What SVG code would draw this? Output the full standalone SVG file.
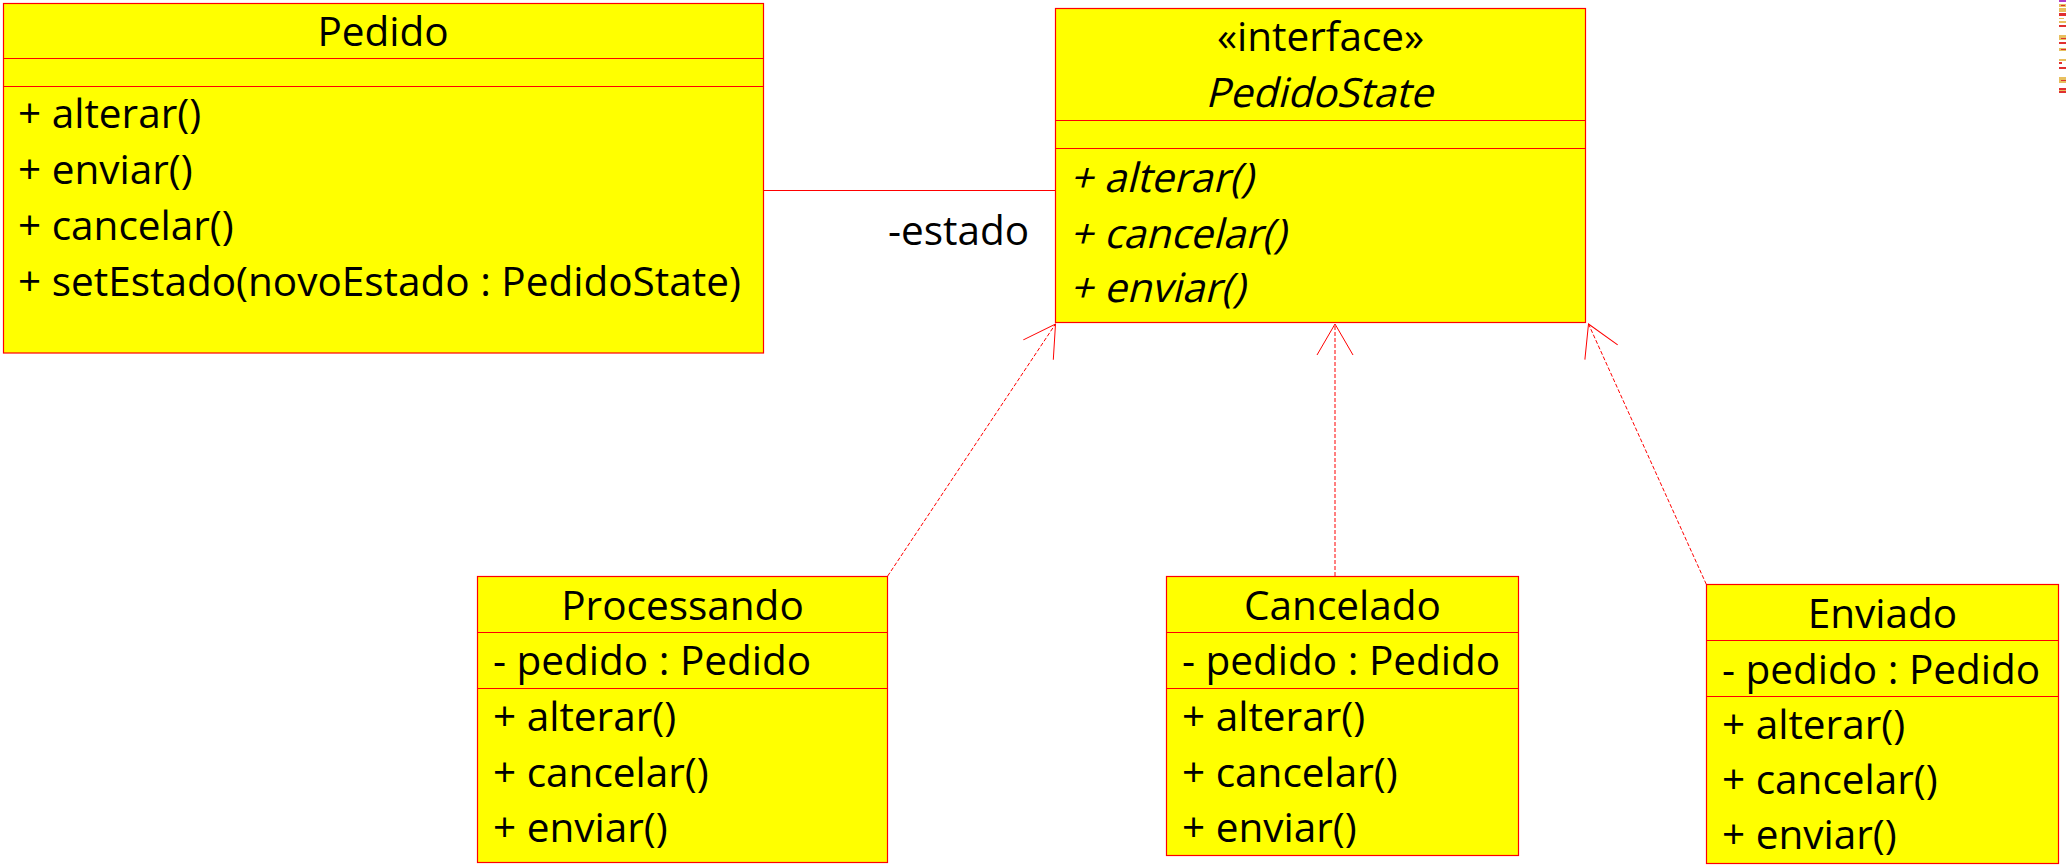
<svg xmlns="http://www.w3.org/2000/svg" width="2066" height="867" viewBox="0 0 2066 867">
<defs>
<style>
.box{fill:#ffff00;stroke:#ff0000;stroke-width:1.2}
.dv{stroke:#ff0000;stroke-width:1.2}
.t{font-family:"Open Sans","Noto Sans",sans-serif;font-size:40.5px;fill:#000}
.c{text-anchor:middle}
.assoc{stroke:#ff0000;stroke-width:1.2;fill:none}
.real{stroke:#ff0000;stroke-width:1;stroke-dasharray:4 2;fill:none;marker-end:url(#open)}
</style>
<marker id="open" markerUnits="userSpaceOnUse" markerWidth="40" markerHeight="40" refX="0" refY="0" orient="auto" overflow="visible">
<path d="M -31 -18 L 0 0 L -31 18" fill="none" stroke="#ff0000" stroke-width="1"/>
</marker>
</defs>
<rect x="0" y="0" width="2066" height="867" fill="#ffffff"/>

<g id="connectors">
<line class="assoc" x1="763.5" y1="190.5" x2="1055.5" y2="190.5"/>
<text class="t" x="888" y="245">-estado</text>
<line class="real" x1="887.7" y1="576" x2="1055.5" y2="324"/>
<line class="real" x1="1335" y1="576" x2="1335" y2="324"/>
<line class="real" x1="1706.3" y1="584.3" x2="1588.5" y2="324"/>
</g>

<g id="Pedido">
<rect class="box" x="3.5" y="3.5" width="760" height="349.5"/>
<line class="dv" x1="3.5" y1="58.5" x2="763.5" y2="58.5"/>
<line class="dv" x1="3.5" y1="86.5" x2="763.5" y2="86.5"/>
<text class="t c" x="383" y="46">Pedido</text>
<text class="t" x="18" y="128">+ alterar()</text>
<text class="t" x="18" y="184">+ enviar()</text>
<text class="t" x="18" y="240">+ cancelar()</text>
<text class="t" x="18" y="296">+ setEstado(novoEstado : PedidoState)</text>
</g>

<g id="PedidoState">
<rect class="box" x="1055.5" y="8.5" width="530" height="314"/>
<line class="dv" x1="1055.5" y1="120.5" x2="1585.5" y2="120.5"/>
<line class="dv" x1="1055.5" y1="148.5" x2="1585.5" y2="148.5"/>
<text class="t c" x="1320.5" y="51">«interface»</text>
<text class="t c" transform="translate(1319,107) skewX(-14)" x="0" y="0">PedidoState</text>
<text class="t" transform="translate(1070,192) skewX(-14)" x="0" y="0">+ alterar()</text>
<text class="t" transform="translate(1070,247.5) skewX(-14)" x="0" y="0">+ cancelar()</text>
<text class="t" transform="translate(1070,302) skewX(-14)" x="0" y="0">+ enviar()</text>
</g>

<g id="Processando">
<rect class="box" x="477.5" y="576.5" width="410" height="286"/>
<line class="dv" x1="477.5" y1="632.5" x2="887.5" y2="632.5"/>
<line class="dv" x1="477.5" y1="688.5" x2="887.5" y2="688.5"/>
<text class="t c" x="682.5" y="620">Processando</text>
<text class="t" x="493" y="675">- pedido : Pedido</text>
<text class="t" x="493" y="731">+ alterar()</text>
<text class="t" x="493" y="787">+ cancelar()</text>
<text class="t" x="493" y="842">+ enviar()</text>
</g>

<g id="Cancelado">
<rect class="box" x="1166.5" y="576.5" width="352" height="279"/>
<line class="dv" x1="1166.5" y1="632.5" x2="1518.5" y2="632.5"/>
<line class="dv" x1="1166.5" y1="688.5" x2="1518.5" y2="688.5"/>
<text class="t c" x="1342.5" y="620">Cancelado</text>
<text class="t" x="1182" y="675">- pedido : Pedido</text>
<text class="t" x="1182" y="731">+ alterar()</text>
<text class="t" x="1182" y="787">+ cancelar()</text>
<text class="t" x="1182" y="842">+ enviar()</text>
</g>

<g id="Enviado">
<rect class="box" x="1706.5" y="584.5" width="352" height="279"/>
<line class="dv" x1="1706.5" y1="640.5" x2="2058.5" y2="640.5"/>
<line class="dv" x1="1706.5" y1="696.5" x2="2058.5" y2="696.5"/>
<text class="t c" x="1882.5" y="628">Enviado</text>
<text class="t" x="1722" y="683.5">- pedido : Pedido</text>
<text class="t" x="1722" y="739">+ alterar()</text>
<text class="t" x="1722" y="794">+ cancelar()</text>
<text class="t" x="1722" y="849">+ enviar()</text>
</g>

<g id="edge-strip">
<rect x="2059" y="0" width="7" height="2" fill="#b03cc8"/>
<rect x="2059" y="4" width="7" height="3" fill="#e8c060"/>
<rect x="2061" y="5" width="4" height="1" fill="#e03030"/>
<rect x="2059" y="8" width="7" height="4" fill="#e8c060"/>
<rect x="2059" y="13" width="7" height="3" fill="#e03030"/>
<rect x="2059" y="18" width="5" height="1" fill="#e8c060"/>
<rect x="2059" y="21" width="7" height="2" fill="#e8c060"/>
<rect x="2059" y="25" width="7" height="2" fill="#e03030"/>
<rect x="2059" y="35" width="7" height="5" fill="#e8c060"/>
<rect x="2061" y="38" width="5" height="1" fill="#e03030"/>
<rect x="2059" y="42" width="7" height="2" fill="#e03030"/>
<rect x="2059" y="48" width="7" height="3" fill="#e8c060"/>
<rect x="2061" y="49" width="5" height="1" fill="#e03030"/>
<rect x="2059" y="59" width="7" height="2" fill="#e8c060"/>
<rect x="2059" y="62" width="3" height="2" fill="#e03030"/>
<rect x="2059" y="67" width="7" height="2" fill="#e03030"/>
<rect x="2059" y="77" width="7" height="6" fill="#e8c060"/>
<rect x="2061" y="80" width="5" height="1" fill="#e03030"/>
<rect x="2059" y="88" width="7" height="5" fill="#e03030"/>
<rect x="2059" y="90" width="7" height="1" fill="#e8c060"/>
</g>
</svg>
